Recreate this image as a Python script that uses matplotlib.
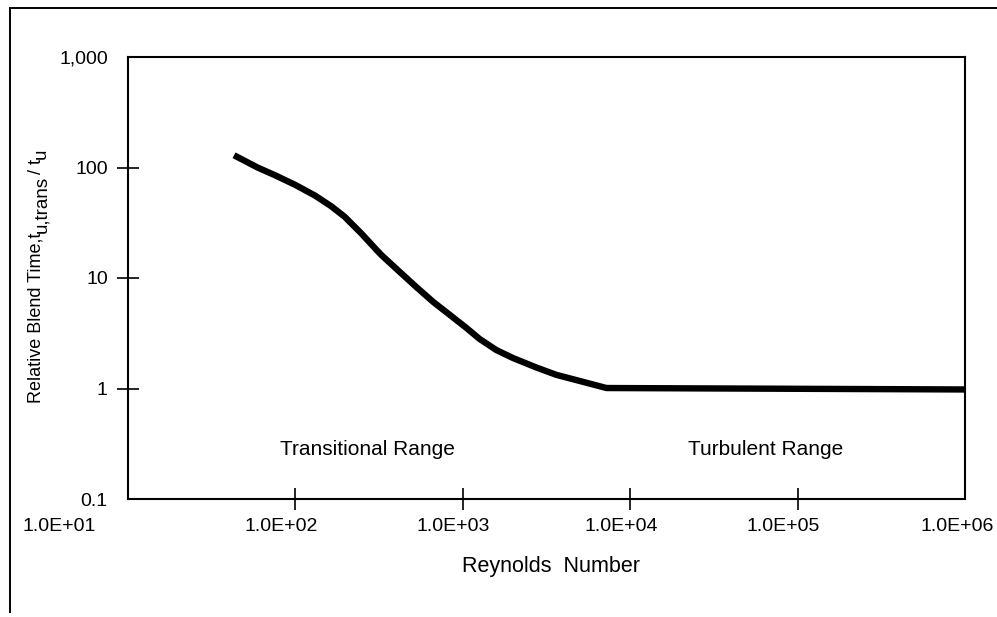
import matplotlib
matplotlib.use("Agg")
import matplotlib.pyplot as plt
import matplotlib.transforms as mtransforms
from matplotlib.ticker import FixedLocator, FixedFormatter, NullLocator
from matplotlib.lines import Line2D

plt.rcParams['font.family'] = ['Liberation Sans', 'DejaVu Sans']

# ---- data ----
reynolds = [43, 59.4, 75.3, 100, 131, 164, 197, 247, 324, 406, 532, 667, 836,
            1047, 1259, 1585, 1991, 2748, 3616, 4990, 7210, 1.0e6]
blend_time = [129, 100, 85.3, 69.5, 55.7, 44.5, 35.8, 25.4, 16.3, 11.9, 8.19,
              6.06, 4.64, 3.55, 2.81, 2.23, 1.89, 1.55, 1.33, 1.17, 1.01, 0.98]

x_ticks = [1e1, 1e2, 1e3, 1e4, 1e5, 1e6]
x_tick_labels = ['1.0E+01', '1.0E+02', '1.0E+03', '1.0E+04', '1.0E+05', '1.0E+06']
y_ticks = [0.1, 1, 10, 100, 1000]
y_tick_labels = ['0.1', '1', '10', '100', '1,000']
region_labels = ['Transitional Range', 'Turbulent Range']
ylabel_parts = ['Relative Blend Time,t', 'u,trans', '/ t', 'u']

W, H = 997, 617
fig = plt.figure(figsize=(W / 100, H / 100), dpi=100)
ax = fig.add_axes([128 / W, 1 - 499 / H, (965 - 128) / W, (499 - 57) / H])

ax.set_xscale('log')
ax.set_yscale('log')
ax.set_xlim(1e1, 1e6)
ax.set_ylim(0.1, 1000)

ax.plot(reynolds, blend_time, color='black', lw=4.6,
        solid_capstyle='butt', solid_joinstyle='round')

ax.xaxis.set_major_locator(FixedLocator(x_ticks))
ax.xaxis.set_major_formatter(FixedFormatter(x_tick_labels))
ax.yaxis.set_major_locator(FixedLocator(y_ticks))
ax.yaxis.set_major_formatter(FixedFormatter(y_tick_labels))
ax.xaxis.set_minor_locator(NullLocator())
ax.yaxis.set_minor_locator(NullLocator())

ax.tick_params(axis='both', direction='inout', length=16, width=1.2,
               labelsize=14, colors='black')
ax.tick_params(axis='x', pad=5.8)
ax.tick_params(axis='y', pad=6.5)

for sp in ax.spines.values():
    sp.set_linewidth(1.5)
    sp.set_color('black')

# hide tick marks at the corners
xt = ax.xaxis.get_major_ticks()
yt = ax.yaxis.get_major_ticks()
for t in (xt[0], xt[-1], yt[0], yt[-1]):
    t.tick1line.set_visible(False)
    t.tick2line.set_visible(False)

# small horizontal shifts of the x tick labels (as in the reference)
shifts_px = [-69, -14, -10, -9, -14, -8]
for lab, dx in zip(ax.get_xticklabels(), shifts_px):
    lab.set_transform(lab.get_transform() +
                      mtransforms.ScaledTranslation(dx / 100, 0, fig.dpi_scale_trans))

ax.set_xlabel('Reynolds  Number', fontsize=15.5, labelpad=15)
ax.xaxis.label.set_x(0.505)

ax.text(270, 0.248, region_labels[0], ha='center', va='baseline', fontsize=15)
ax.text(64700, 0.248, region_labels[1], ha='center', va='baseline', fontsize=15)

# y label built from pieces (subscripts lowered = shifted right when rotated)
p1 = fig.text(36 / W, 1 - 403 / H, ylabel_parts[0], rotation=90,
              ha='center', va='bottom', fontsize=13)
p2 = ax.annotate(ylabel_parts[1], xy=(0.5, 1), xycoords=p1,
                 xytext=(4, 0), textcoords='offset points', rotation=90,
                 ha='center', va='bottom', fontsize=13.5, annotation_clip=False)
p3 = ax.annotate(ylabel_parts[2], xy=(0.5, 1), xycoords=p2,
                 xytext=(-4, 1), textcoords='offset points', rotation=90,
                 ha='center', va='bottom', fontsize=13, annotation_clip=False)
p4 = ax.annotate(ylabel_parts[3], xy=(0.5, 1), xycoords=p3,
                 xytext=(4, 0), textcoords='offset points', rotation=90,
                 ha='center', va='bottom', fontsize=13.5, annotation_clip=False)

# outer frame lines
fig.add_artist(Line2D([12 / W, 1.0], [1 - 8 / H, 1 - 8 / H],
                      transform=fig.transFigure, color='black', lw=1.4))
fig.add_artist(Line2D([10 / W, 10 / W], [1 - 8 / H, 1 - 612 / H],
                      transform=fig.transFigure, color='black', lw=1.4))

fig.savefig('out.png', dpi=100, facecolor='white')
